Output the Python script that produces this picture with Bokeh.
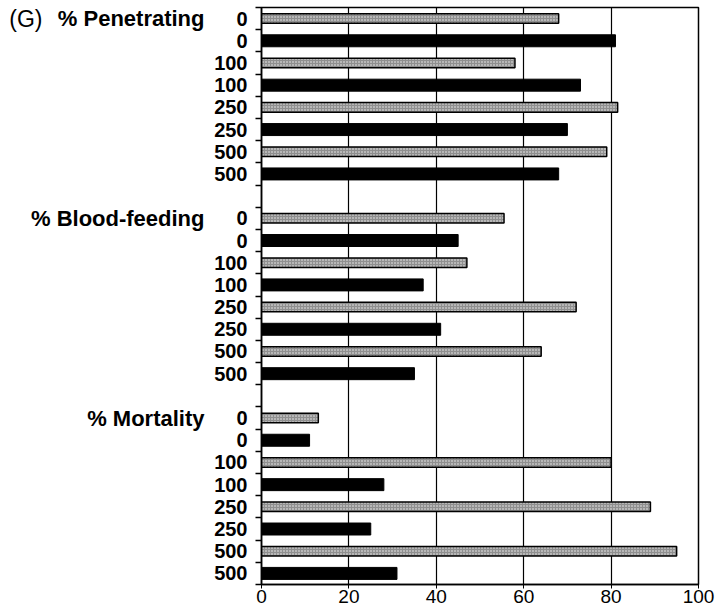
from bokeh.plotting import figure
from bokeh.models import FixedTicker, LinearAxis, Range1d, ColumnDataSource
from bokeh.embed import file_html
from bokeh.resources import INLINE

# Dose labels shared by every panel, paired rows
doses = ["0", "0", "100", "100", "250", "250", "500", "500"]
# Which of the paired bars each row is: stippled (light) or solid (dark)
kinds = ["light", "dark", "light", "dark", "light", "dark", "light", "dark"]

panel_tag = "(G)"
groups = ["% Penetrating", "% Blood-feeding", "% Mortality"]
penetrating = [68, 81, 58, 73, 81.5, 70, 79, 68]
blood_feeding = [55.5, 45, 47, 37, 72, 41, 64, 35]
mortality = [13, 11, 80, 28, 89, 25, 95, 31]
series = [penetrating, blood_feeding, mortality]

x_ticks = [0, 20, 40, 60, 80, 100]

FONT = "Liberation Sans"
ROWS_PER_GROUP = len(doses) + 1  # one blank row between groups

light = dict(y=[], v=[])
dark = dict(y=[], v=[])
centers, overrides = [], {}
for gi, vals in enumerate(series):
    for r, (d, k, v) in enumerate(zip(doses, kinds, vals)):
        yy = gi * ROWS_PER_GROUP + r
        centers.append(yy)
        overrides[yy] = d
        target = light if k == "light" else dark
        target["y"].append(yy)
        target["v"].append(v)

n_rows = len(series) * ROWS_PER_GROUP - 1

p = figure(width=717, height=609, output_backend="svg", toolbar_location=None,
           x_range=Range1d(0, 100), y_range=Range1d(n_rows - 0.5, -0.5),
           min_border_left=261, min_border_right=19, min_border_top=7,
           min_border_bottom=25)
p.background_fill_color = "white"
p.border_fill_color = "white"
p.outline_line_color = "black"
p.outline_line_width = 1.5

p.hbar(y="y", right="v", left=0, height=0.43, source=ColumnDataSource(light),
       fill_color="#8f8f8f", line_color="black", line_width=1.5,
       hatch_pattern="dot", hatch_color="#f2f2f2", hatch_scale=3, hatch_weight=1)
p.hbar(y="y", right="v", left=0, height=0.54, source=ColumnDataSource(dark),
       fill_color="black", line_color="black")

# x axis
p.xaxis.ticker = FixedTicker(ticks=x_ticks)
p.xaxis.major_label_text_font = FONT
p.xaxis.major_label_text_font_size = "19px"
p.xaxis.major_label_text_font_style = "normal"
p.xaxis.major_label_text_color = "black"
p.xaxis.major_tick_out = 4
p.xaxis.major_tick_in = 0
p.xaxis.minor_tick_out = 0
p.xaxis.minor_tick_in = 0
p.xaxis.major_label_standoff = 1
p.xaxis.axis_line_color = "black"
p.xaxis.axis_line_width = 1.5

# y axis: labels at row centres, short ticks at row boundaries
bounds = [i - 0.5 for i in range(n_rows + 1)]
p.yaxis.ticker = FixedTicker(ticks=centers, minor_ticks=bounds)
p.yaxis.major_label_overrides = overrides
p.yaxis.major_label_text_font = FONT
p.yaxis.major_label_text_font_size = "20px"
p.yaxis.major_label_text_font_style = "bold"
p.yaxis.major_label_text_color = "black"
p.yaxis.major_tick_out = 0
p.yaxis.major_tick_in = 0
p.yaxis.minor_tick_out = 6
p.yaxis.minor_tick_in = 0
p.yaxis.minor_tick_line_color = "black"
p.yaxis.minor_tick_line_width = 1.5
p.yaxis.major_label_standoff = 8
p.yaxis.axis_line_color = "black"
p.yaxis.axis_line_width = 1.5

p.xgrid.ticker = FixedTicker(ticks=[20, 40, 60, 80])
p.xgrid.grid_line_color = "black"
p.xgrid.grid_line_width = 1.2
p.ygrid.grid_line_color = None


def text_axis(rows, labels, standoff, style, size):
    """A bare left axis used only to place headings beside given rows."""
    ax = LinearAxis(ticker=FixedTicker(ticks=rows),
                    major_label_overrides=dict(zip(rows, labels)))
    ax.axis_line_color = None
    ax.major_tick_line_color = None
    ax.minor_tick_line_color = None
    ax.major_tick_out = 0
    ax.major_tick_in = 0
    ax.major_label_standoff = standoff
    ax.major_label_text_font = FONT
    ax.major_label_text_font_size = size
    ax.major_label_text_font_style = style
    ax.major_label_text_color = "black"
    return ax


# group headings beside the first row of each block, then the panel tag
heading_rows = [gi * ROWS_PER_GROUP for gi in range(len(groups))]
p.add_layout(text_axis(heading_rows, groups, 7, "bold", "22px"), "left")
p.add_layout(text_axis([0], [panel_tag], -15, "normal", "23px"), "left")

open("out.html", "w").write(file_html(p, INLINE))
